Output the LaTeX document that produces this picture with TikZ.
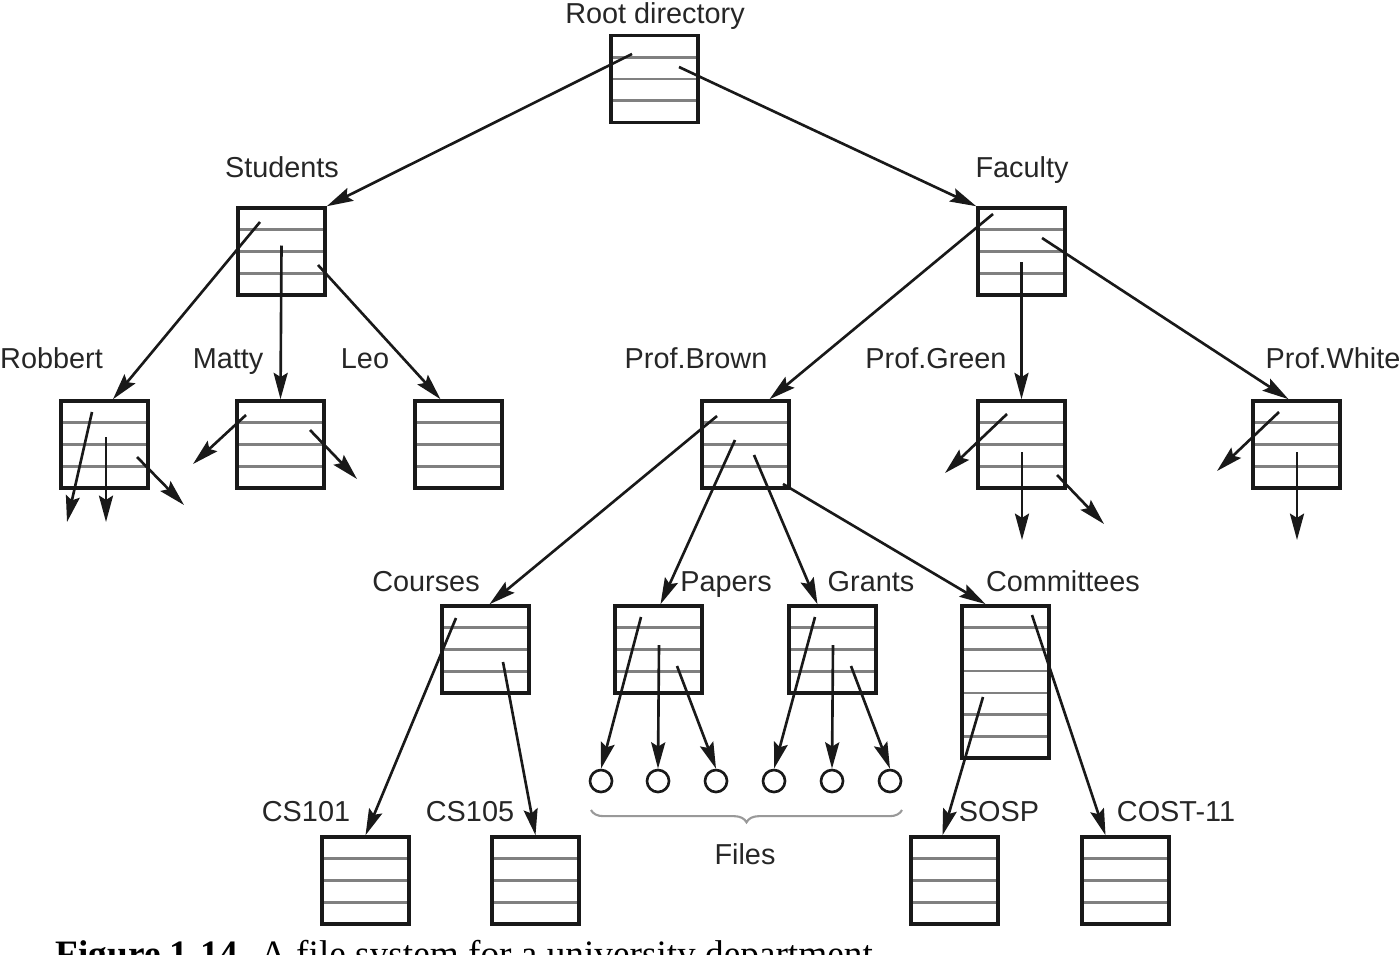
\documentclass[tikz,border=0pt]{standalone}
\usepackage{fontspec}
\setmainfont{Liberation Sans}
\newfontfamily\capfont{Liberation Serif}
\usetikzlibrary{arrows.meta,calc,decorations.pathreplacing}

\tikzset{
    % Directory boxes - a stack of entries
    entry line/.style={black!50, line width=0.75pt},
    dirbox/.style={draw=black!90, line width=1pt, fill=white, inner sep=0pt,
        minimum width=0.87cm, minimum height=#1*0.2175cm,
        path picture={\foreach \k in {1,...,9}{\ifnum\k<#1
            \draw[entry line] ($(path picture bounding box.north west)!\k/#1!(path picture bounding box.south west)$)
                -- ($(path picture bounding box.north east)!\k/#1!(path picture bounding box.south east)$);\fi}}},
    dirbox/.default=4,
    % Plain files
    file/.style={circle, draw=black!90, line width=0.75pt, minimum size=0.22cm, inner sep=0pt},
    % Pointers
    ptr/.style={-{Stealth[length=7.5pt,width=4pt,inset=1.2pt]}, line width=0.75pt, black!90},
    % Labels
    dir label/.style={anchor=base, inner sep=0pt, text=black!85, font=\fontsize{8.2}{10}\selectfont},
    % Brace under the files
    brace line/.style={decorate, decoration={brace, mirror, amplitude=3.5pt}, gray!80, line width=0.6pt},
}

\begin{document}
\begin{tikzpicture}[x=0.01cm, y=-0.01cm]
    \useasboundingbox (0,0) rectangle (1400,954);
    \clip (0,0) rectangle (1400,954);

    % Directories
    \node[dirbox] (root) at (654.5,79) {};
    \node[dirbox] (students) at (281.5,251.5) {};
    \node[dirbox] (faculty) at (1021.5,251.5) {};
    \node[dirbox] (robbert) at (104.5,444.5) {};
    \node[dirbox] (matty) at (280.5,444.5) {};
    \node[dirbox] (leo) at (458.5,444.5) {};
    \node[dirbox] (brown) at (745.5,444.5) {};
    \node[dirbox] (green) at (1021.5,444.5) {};
    \node[dirbox] (white) at (1296.5,444.5) {};
    \node[dirbox] (courses) at (485.5,649.5) {};
    \node[dirbox] (papers) at (658.5,649.5) {};
    \node[dirbox] (grants) at (832.5,649.5) {};
    \node[dirbox=7] (committees) at (1005.5,682) {};
    \node[dirbox] (cs101) at (365.5,880.5) {};
    \node[dirbox] (cs105) at (535.5,880.5) {};
    \node[dirbox] (sosp) at (954.5,880.5) {};
    \node[dirbox] (cost) at (1125.5,880.5) {};

    % Files
    \node[file] (f1) at (601,781) {};
    \node[file] (f2) at (658,781) {};
    \node[file] (f3) at (716,781) {};
    \node[file] (f4) at (774,781) {};
    \node[file] (f5) at (832,781) {};
    \node[file] (f6) at (890,781) {};

    % Labels
    \node[dir label] (root label) at (655,23) {Root directory};
    \node[dir label] (students label) at (282,177) {Students};
    \node[dir label] (faculty label) at (1022,177) {Faculty};
    \node[dir label] (robbert label) at (51.5,368) {Robbert};
    \node[dir label] (matty label) at (228,368) {Matty};
    \node[dir label] (leo label) at (365,368) {Leo};
    \node[dir label] (brown label) at (696,368) {Prof.Brown};
    \node[dir label] (green label) at (936,368) {Prof.Green};
    \node[dir label] (white label) at (1333,368) {Prof.White};
    \node[dir label] (courses label) at (426,591) {Courses};
    \node[dir label] (papers label) at (726,591) {Papers};
    \node[dir label] (grants label) at (871,591) {Grants};
    \node[dir label] (committees label) at (1063,591) {Committees};
    \node[dir label] (cs101 label) at (306,821) {CS101};
    \node[dir label] (cs105 label) at (470,821) {CS105};
    \node[dir label] (sosp label) at (999,821) {SOSP};
    \node[dir label] (cost label) at (1176,821) {COST-11};
    \node[dir label] (files label) at (745,864) {Files};

    % Brace
    \draw[brace line] (591,810) -- (902,810);

    % Loose ends
    \coordinate (robbert a) at (67,522);
    \coordinate (robbert b) at (106,522);
    \coordinate (robbert c) at (184,505);
    \coordinate (matty a) at (193,464);
    \coordinate (matty b) at (357,479);
    \coordinate (green a) at (945,473);
    \coordinate (green b) at (1022,540);
    \coordinate (green c) at (1104,524);
    \coordinate (white a) at (1217,471);
    \coordinate (white b) at (1297,540);

    % Pointers
    \draw[ptr] ([shift={(-22.5,-25)}]root.center) -- (students.north east);
    \draw[ptr] ([shift={(24.5,-12)}]root.center) -- (faculty.north west);

    \draw[ptr] ([shift={(-21.5,-29.5)}]students.center) -- ([shift={(8.5,0)}]robbert.north);
    \draw[ptr] ([shift={(0,-6)}]students.center) -- (matty.north);
    \draw[ptr] ([shift={(36.5,13.5)}]students.center) -- ([shift={(-18,0)}]leo.north);

    \draw[ptr] ([shift={(-28.5,-37.5)}]faculty.center) -- ([shift={(24,0)}]brown.north);
    \draw[ptr] ([shift={(0,10.5)}]faculty.center) -- (green.north);
    \draw[ptr] ([shift={(20.5,-13.5)}]faculty.center) -- ([shift={(-8,0)}]white.north);

    \draw[ptr] ([shift={(-12.5,-32.5)}]robbert.center) -- (robbert a);
    \draw[ptr] ([shift={(1.5,-7.5)}]robbert.center) -- (robbert b);
    \draw[ptr] ([shift={(32.5,12.5)}]robbert.center) -- (robbert c);
    \draw[ptr] ([shift={(-34.5,-29.5)}]matty.center) -- (matty a);
    \draw[ptr] ([shift={(29.5,-14.5)}]matty.center) -- (matty b);
    \draw[ptr] ([shift={(-14.5,-30.5)}]green.center) -- (green a);
    \draw[ptr] ([shift={(0.5,7.5)}]green.center) -- (green b);
    \draw[ptr] ([shift={(35.5,30.5)}]green.center) -- (green c);
    \draw[ptr] ([shift={(-17.5,-32.5)}]white.center) -- (white a);
    \draw[ptr] ([shift={(0.5,7.5)}]white.center) -- (white b);

    \draw[ptr] ([shift={(-28.5,-28.5)}]brown.center) -- ([shift={(4,0)}]courses.north);
    \draw[ptr] ([shift={(-10.5,-4.5)}]brown.center) -- ([shift={(2,0)}]papers.north);
    \draw[ptr] ([shift={(8.5,10.5)}]brown.center) -- ([shift={(-15,0)}]grants.north);
    \draw[ptr] ([shift={(37.5,39.5)}]brown.center) -- ([shift={(-20,0)}]committees.north);

    \draw[ptr] ([shift={(-29.5,-31.5)}]courses.center) -- (cs101.north);
    \draw[ptr] ([shift={(17.5,12.5)}]courses.center) -- (cs105.north);

    \draw[ptr] ([shift={(-17.5,-32.5)}]papers.center) -- (f1.north);
    \draw[ptr] ([shift={(0.5,-4.5)}]papers.center) -- (f2.north);
    \draw[ptr] ([shift={(18.5,16.5)}]papers.center) -- (f3.north);
    \draw[ptr] ([shift={(-17.5,-32.5)}]grants.center) -- (f4.north);
    \draw[ptr] ([shift={(0.5,-4.5)}]grants.center) -- (f5.north);
    \draw[ptr] ([shift={(18.5,16.5)}]grants.center) -- (f6.north);

    \draw[ptr] ([shift={(-22.5,15)}]committees.center) -- ([shift={(-12,0)}]sosp.north);
    \draw[ptr] ([shift={(26.5,-67)}]committees.center) -- ([shift={(-20,0)}]cost.north);

    % Caption (cut off at the bottom edge)
    \node[anchor=base west, inner sep=0pt, font=\capfont\fontsize{10.6}{12}\selectfont] (caption) at (55,966)
        {\textbf{Figure 1-14.} A file system for a university department.};
\end{tikzpicture}
\end{document}
